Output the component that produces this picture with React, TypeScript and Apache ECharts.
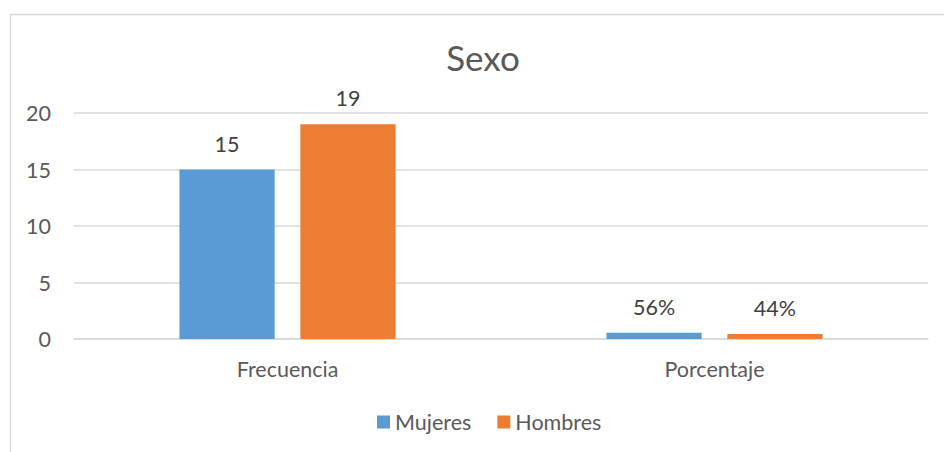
import React, { useEffect, useRef } from "react";
import * as echarts from "echarts";

const categories = ["Frecuencia", "Porcentaje"];
const mujeres = [15, 0.56];
const hombres = [19, 0.44];
const mujeresLabels = ["15", "56%"];
const hombresLabels = ["19", "44%"];
const yTicks = { min: 0, max: 20, interval: 5 };

const FONT = "Lato, 'Open Sans', sans-serif";
const FS = 21.5;

export default function App() {
  const ref = useRef<HTMLDivElement>(null);
  useEffect(() => {
    if (!ref.current) return;
    const chart = echarts.init(ref.current, undefined, { renderer: "svg" });
    chart.setOption({
      animation: false,
      backgroundColor: "#ffffff",
      textStyle: { fontFamily: FONT },
      title: {
        text: "Sexo",
        left: 478,
        top: 34,
        textAlign: "center",
        textStyle: { fontSize: 35, fontWeight: "normal", color: "#595959", fontFamily: FONT },
      },
      graphic: [
        {
          type: "polyline",
          shape: { points: [[10.5, 460], [10.5, 14.5], [960, 14.5]] },
          style: { stroke: "#d9d9d9", lineWidth: 1.5, fill: null },
          silent: true,
        },
      ],
      legend: {
        bottom: 14,
        left: 372,
        itemWidth: 13,
        itemHeight: 13,
        itemGap: 26,
        icon: "rect",
        textStyle: { fontSize: FS, color: "#595959", fontFamily: FONT },
        data: ["Mujeres", "Hombres"],
      },
      grid: { left: 74, right: 16, top: 113, bottom: 113, containLabel: false },
      xAxis: {
        type: "category",
        data: categories,
        axisLine: { lineStyle: { color: "#d9d9d9", width: 1.5 } },
        axisTick: { show: false },
        axisLabel: { fontSize: FS, color: "#595959", margin: 19, fontFamily: FONT },
      },
      yAxis: {
        type: "value",
        min: yTicks.min,
        max: yTicks.max,
        interval: yTicks.interval,
        axisLine: { show: false },
        axisTick: { show: false },
        splitLine: { lineStyle: { color: "#d9d9d9", width: 1.5 } },
        axisLabel: { fontSize: FS, color: "#595959", margin: 23, fontFamily: FONT },
      },
      series: [
        {
          name: "Mujeres",
          type: "bar",
          data: mujeres,
          barWidth: "22.3%",
          barGap: "27%",
          itemStyle: { color: "#5b9bd5" },
          label: {
            show: true,
            position: "top",
            distance: 15,
            fontSize: FS,
            color: "#404040",
            fontFamily: FONT,
            formatter: (p: any) => mujeresLabels[p.dataIndex],
          },
        },
        {
          name: "Hombres",
          type: "bar",
          data: hombres,
          barWidth: "22.3%",
          barGap: "27%",
          itemStyle: { color: "#ed7d31" },
          label: {
            show: true,
            position: "top",
            distance: 15,
            fontSize: FS,
            color: "#404040",
            fontFamily: FONT,
            formatter: (p: any) => hombresLabels[p.dataIndex],
          },
        },
      ],
    });
    return () => chart.dispose();
  }, []);
  return (
    <div
      ref={ref}
      style={{ position: "absolute", left: 0, top: 0, width: 944, height: 452 }}
    />
  );
}
